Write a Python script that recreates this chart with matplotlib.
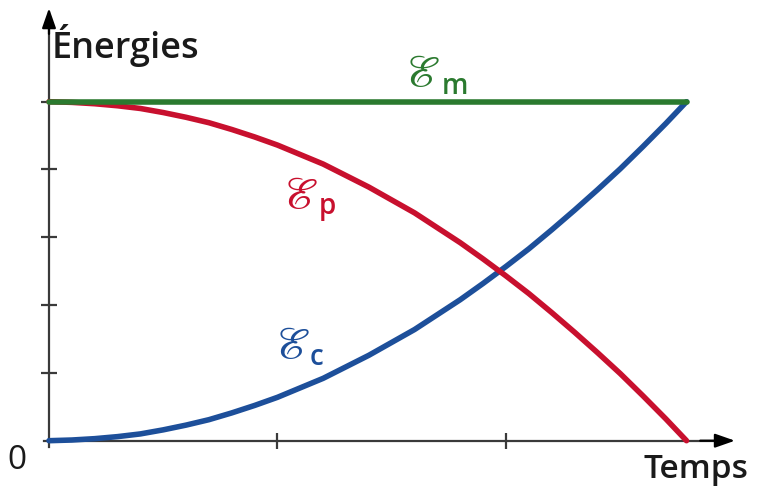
import matplotlib
matplotlib.use('Agg')
import matplotlib.pyplot as plt

# valeurs (temps et energie en graduations)
temps = [0, 0.1, 0.2, 0.3, 0.4, 0.5, 0.6, 0.7, 0.8, 0.9, 1.0, 1.1, 1.2, 1.3, 1.4,
         1.5, 1.6, 1.7, 1.8, 1.9, 2.0, 2.1, 2.2, 2.3, 2.4, 2.5, 2.6, 2.7, 2.79]
ec = [0, 0.01, 0.03, 0.06, 0.10, 0.16, 0.23, 0.31, 0.41, 0.52, 0.64, 0.78, 0.92, 1.09,
      1.26, 1.45, 1.64, 1.86, 2.08, 2.32, 2.57, 2.83, 3.11, 3.40, 3.70, 4.01, 4.34,
      4.68, 5.0]
ep = [5.0, 4.99, 4.97, 4.94, 4.90, 4.84, 4.77, 4.69, 4.59, 4.48, 4.36, 4.22, 4.08,
      3.91, 3.74, 3.55, 3.36, 3.14, 2.92, 2.68, 2.43, 2.17, 1.89, 1.60, 1.30, 0.99,
      0.66, 0.32, 0]
em = [5.0, 5.0]
temps_em = [0, 2.79]
xticks = [1, 2]
yticks = [1, 2, 3, 4, 5]

vert = '#2b7a2f'
rouge = '#c8102e'
bleu = '#1d4f9a'
gris = '#3a3a3a'
police = 'Open Sans'

fig = plt.figure(figsize=(7.66, 4.91), dpi=100)
ax = fig.add_axes([0, 0, 1, 1])
ax.set_xlim(-0.2144, 3.1379)
ax.set_ylim(-0.742, 6.500)

# courbes
ax.plot(temps, ec, color=bleu, lw=4.0, solid_capstyle='round', zorder=3)
ax.plot(temps, ep, color=rouge, lw=4.0, solid_capstyle='round', zorder=4)
ax.plot(temps_em, em, color=vert, lw=4.0, solid_capstyle='round', zorder=5)

# axes avec fleches
for s in ['top', 'right']:
    ax.spines[s].set_visible(False)
ax.spines['left'].set_position(('data', 0))
ax.spines['bottom'].set_position(('data', 0))
ax.spines['left'].set_bounds(-0.1, 6.2)
ax.spines['bottom'].set_bounds(-0.02, 2.95)
for s in ['left', 'bottom']:
    ax.spines[s].set_color(gris)
    ax.spines[s].set_linewidth(1.6)
ax.set_xticks(xticks)
ax.set_yticks(yticks)
ax.tick_params(direction='inout', length=11, width=1.6, color=gris,
               labelbottom=False, labelleft=False)
fleche = dict(arrowstyle='-|>,head_length=1.2,head_width=0.42',
              color='black', lw=1.6, shrinkA=0, shrinkB=0)
ax.annotate('', xy=(3.002, 0), xytext=(2.85, 0), arrowprops=fleche)
ax.annotate('', xy=(0, 6.38), xytext=(0, 6.0), arrowprops=fleche)

# textes
ax.text(0.01, 5.83, 'Énergies', fontsize=26, family=police, weight='semibold',
        color='#1a1a1a', ha='left', va='center')
ax.text(3.059, -0.42, 'Temps', fontsize=24, family=police, weight='semibold',
        color='#1a1a1a', ha='right', va='center')
ax.text(-0.142, -0.285, '0', fontsize=24, family=police, color='#1a1a1a',
        ha='center', va='center')

plt.rcParams['mathtext.fontset'] = 'stix'
labels = [(1.558, 5.42, 1.72, 5.23, 'm', vert),
          (1.024, 3.61, 1.18, 3.46, 'p', rouge),
          (0.989, 1.40, 1.14, 1.23, 'c', bleu)]
for x, y, xs, ys, sub, c in labels:
    ax.text(x, y, r'$\mathscr{E}$', fontsize=32, color=c, ha='left', va='center')
    ax.text(xs, ys, sub, fontsize=20, family=police, weight='semibold',
            color=c, ha='left', va='center')

plt.savefig('out.png', dpi=100)
